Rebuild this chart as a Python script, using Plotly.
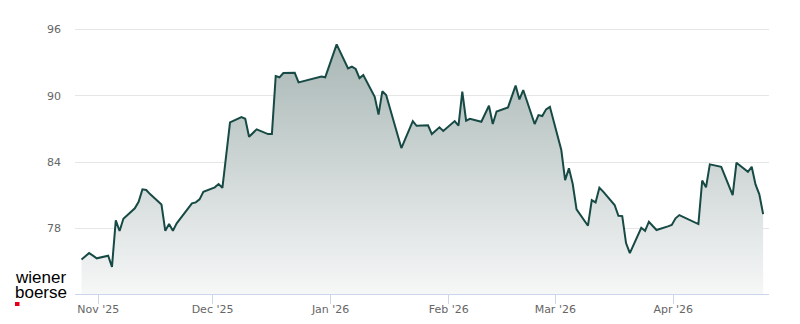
import plotly.graph_objects as go
import pandas as pd

# ---- data ----
dates = [
    "2025-10-27", "2025-10-28", "2025-10-29", "2025-10-30", "2025-10-31",
    "2025-11-03", "2025-11-04", "2025-11-05", "2025-11-06", "2025-11-07",
    "2025-11-10", "2025-11-11", "2025-11-12", "2025-11-13", "2025-11-14",
    "2025-11-17", "2025-11-18", "2025-11-19", "2025-11-20", "2025-11-21",
    "2025-11-24", "2025-11-25", "2025-11-26", "2025-11-27", "2025-11-28",
    "2025-12-01", "2025-12-02", "2025-12-03", "2025-12-04", "2025-12-05",
    "2025-12-08", "2025-12-09", "2025-12-10", "2025-12-11", "2025-12-12",
    "2025-12-15", "2025-12-16", "2025-12-17", "2025-12-18", "2025-12-19",
    "2025-12-22", "2025-12-23", "2025-12-29", "2025-12-30",
    "2026-01-02", "2026-01-05", "2026-01-06", "2026-01-07", "2026-01-08", "2026-01-09",
    "2026-01-12", "2026-01-13", "2026-01-14", "2026-01-15", "2026-01-16",
    "2026-01-19", "2026-01-20", "2026-01-21", "2026-01-22", "2026-01-23",
    "2026-01-26", "2026-01-27", "2026-01-28", "2026-01-29", "2026-01-30",
    "2026-02-02", "2026-02-03", "2026-02-04", "2026-02-05", "2026-02-06",
    "2026-02-09", "2026-02-10", "2026-02-11", "2026-02-12", "2026-02-13",
    "2026-02-16", "2026-02-17", "2026-02-18", "2026-02-19", "2026-02-20",
    "2026-02-23", "2026-02-24", "2026-02-25", "2026-02-26", "2026-02-27",
    "2026-03-02", "2026-03-03", "2026-03-04", "2026-03-05", "2026-03-06",
    "2026-03-09", "2026-03-10", "2026-03-11", "2026-03-12", "2026-03-13",
    "2026-03-16", "2026-03-17", "2026-03-18", "2026-03-19", "2026-03-20",
    "2026-03-23", "2026-03-24", "2026-03-25", "2026-03-26", "2026-03-27",
    "2026-03-30", "2026-03-31", "2026-04-01", "2026-04-02",
    "2026-04-07", "2026-04-08", "2026-04-09", "2026-04-10",
    "2026-04-13", "2026-04-14", "2026-04-15", "2026-04-16", "2026-04-17",
    "2026-04-20", "2026-04-21", "2026-04-22", "2026-04-23", "2026-04-24",
]
prices = [
    75.19, 75.49, 75.76, 75.53, 75.29,
    75.52, 74.52, 78.72, 77.76, 78.87,
    79.81, 80.41, 81.53, 81.47, 81.10,
    80.15, 77.78, 78.39, 77.78, 78.45,
    79.84, 80.26, 80.35, 80.62, 81.31,
    81.71, 82.01, 81.67, 84.63, 87.59,
    88.07, 87.92, 86.29, 86.62, 86.96,
    86.53, 86.53, 91.78, 91.67, 92.05,
    92.08, 91.21, 91.74, 91.67,
    94.65, 92.48, 92.64, 92.42, 91.60, 91.87,
    89.91, 88.30, 90.40, 90.06, 88.81,
    85.27, 86.08, 86.90, 87.71, 87.28,
    87.32, 86.53, 86.85, 87.14, 86.81,
    87.71, 87.30, 90.38, 87.74, 87.92,
    87.65, 88.34, 89.10, 87.44, 88.57,
    88.95, 89.93, 90.92, 89.67, 90.52,
    87.44, 88.25, 88.16, 88.77, 89.00,
    85.09, 82.37, 83.43, 82.01, 79.72,
    78.24, 80.56, 80.35, 81.67, 81.33,
    80.11, 79.14, 79.11, 76.67, 75.76,
    78.05, 77.78, 78.60, 78.25, 77.85,
    78.18, 78.30, 78.91, 79.20,
    78.39, 82.33, 81.71, 83.79,
    83.57, 82.73, 81.87, 81.01, 83.94,
    83.12, 83.57, 81.98, 81.08, 79.29,
]
y_ticks = [78, 84, 90, 96]

# ---- figure ----
x = pd.to_datetime(dates) + pd.Timedelta(hours=14)
y_min, y_max = 72.06, 97.76
line_color = "#174a45"

fig = go.Figure()
fig.add_trace(go.Scatter(
    x=x, y=prices, mode="lines",
    line=dict(color=line_color, width=2),
    fill="tozeroy",
    fillgradient=dict(
        type="vertical",
        start=y_min, stop=max(prices),
        colorscale=[[0, "rgb(246,247,247)"], [1, "rgb(168,183,181)"]],
    ),
    hoverinfo="skip",
))

L, T, B = 75, 10, 30
W, H = 800, 324
pw, ph = 769 - L, 294 - T

def px(xp):
    return (xp - L) / pw

def py(yp):
    return (294 - yp) / ph

fig.update_layout(
    width=W, height=H,
    margin=dict(l=L, r=W - 769, t=T, b=B, autoexpand=False),
    paper_bgcolor="white", plot_bgcolor="white",
    showlegend=False,
    font=dict(family="DejaVu Sans", size=11, color="#666666"),
    xaxis=dict(
        type="date", automargin=False,
        range=["2025-10-25 21:00", "2026-04-26 03:00"],
        tick0="2025-11-01", dtick="M1", tickformat="%b '%y",
        showgrid=False, zeroline=False,
        showline=True, linecolor="#ccd6eb", linewidth=1,
        ticks="outside", ticklen=9, tickcolor="#ccd6eb", tickwidth=1,
        ticklabelstandoff=-4,
        tickfont=dict(family="DejaVu Sans", size=11, color="#666666"),
    ),
    yaxis=dict(
        range=[y_min, y_max], automargin=False,
        tickvals=y_ticks,
        showgrid=True, gridcolor="#e6e6e6", gridwidth=1,
        zeroline=False, showline=False,
        ticks="", ticklabelstandoff=13,
        tickfont=dict(family="DejaVu Sans", size=11, color="#666666"),
    ),
    annotations=[
        dict(text="wiener", xref="paper", yref="paper", x=px(13), y=py(277.5),
             xanchor="left", yanchor="middle", showarrow=False,
             font=dict(family="Liberation Sans", size=17, color="#000000")),
        dict(text="boerse", xref="paper", yref="paper", x=px(13), y=py(292.5),
             xanchor="left", yanchor="middle", showarrow=False,
             font=dict(family="Liberation Sans", size=17, color="#000000")),
    ],
    shapes=[
        dict(type="rect", xref="paper", yref="paper",
             x0=px(15), x1=px(19.5), y0=py(306), y1=py(302),
             fillcolor="#e2001a", line=dict(width=0), layer="above"),
    ],
)

fig.write_html("out.html")
